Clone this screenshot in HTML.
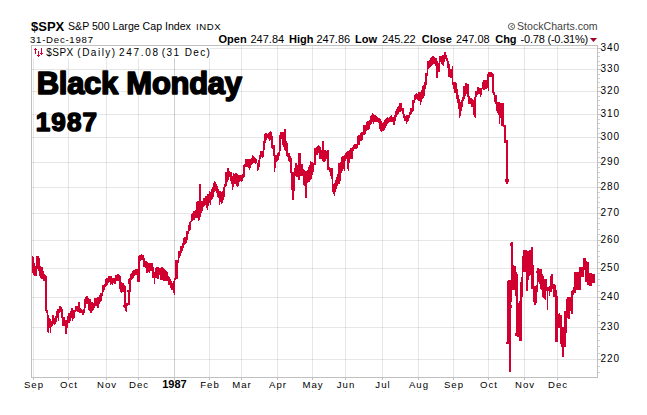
<!DOCTYPE html>
<html><head><meta charset="utf-8"><style>
html,body{margin:0;padding:0;background:#fff;width:647px;height:415px;overflow:hidden}
svg{position:absolute;left:0;top:0}
text{font-family:"Liberation Sans",sans-serif}
.ax{font-size:9.6px;fill:#000;letter-spacing:1px}
.axb{font-size:11px;font-weight:bold;fill:#000}
.hb{font-size:13px;font-weight:bold;fill:#000}
.hn{font-size:10.6px;fill:#000}
.hs{font-size:9.6px;fill:#000;letter-spacing:0.6px}
.sc{font-size:10.6px;fill:#444}
.d{font-size:9.6px;fill:#000;letter-spacing:0.75px}
.ob{font-size:11px;font-weight:bold;fill:#000}
.on{font-size:11px;fill:#000}
.lg{font-size:10px;fill:#000}
.big{font-size:31px;font-weight:bold;fill:#000;stroke:#000;stroke-width:1.6px;stroke-linejoin:round}
</style></head><body>
<svg width="647" height="415" viewBox="0 0 647 415" shape-rendering="crispEdges">
<rect x="33" y="46" width="1" height="331" fill="rgba(0,0,0,0.095)"/>
<rect x="68" y="46" width="1" height="331" fill="rgba(0,0,0,0.095)"/>
<rect x="106" y="46" width="1" height="331" fill="rgba(0,0,0,0.095)"/>
<rect x="138" y="46" width="1" height="331" fill="rgba(0,0,0,0.095)"/>
<rect x="174" y="46" width="1" height="331" fill="rgba(0,0,0,0.19)"/>
<rect x="209" y="46" width="1" height="331" fill="rgba(0,0,0,0.095)"/>
<rect x="241" y="46" width="1" height="331" fill="rgba(0,0,0,0.095)"/>
<rect x="277" y="46" width="1" height="331" fill="rgba(0,0,0,0.095)"/>
<rect x="312" y="46" width="1" height="331" fill="rgba(0,0,0,0.095)"/>
<rect x="345" y="46" width="1" height="331" fill="rgba(0,0,0,0.095)"/>
<rect x="382" y="46" width="1" height="331" fill="rgba(0,0,0,0.095)"/>
<rect x="418" y="46" width="1" height="331" fill="rgba(0,0,0,0.095)"/>
<rect x="453" y="46" width="1" height="331" fill="rgba(0,0,0,0.095)"/>
<rect x="488" y="46" width="1" height="331" fill="rgba(0,0,0,0.095)"/>
<rect x="524" y="46" width="1" height="331" fill="rgba(0,0,0,0.095)"/>
<rect x="557" y="46" width="1" height="331" fill="rgba(0,0,0,0.095)"/>
<rect x="32" y="48" width="565" height="1" fill="rgba(0,0,0,0.095)"/>
<rect x="32" y="69" width="565" height="1" fill="rgba(0,0,0,0.095)"/>
<rect x="32" y="91" width="565" height="1" fill="rgba(0,0,0,0.095)"/>
<rect x="32" y="114" width="565" height="1" fill="rgba(0,0,0,0.095)"/>
<rect x="32" y="137" width="565" height="1" fill="rgba(0,0,0,0.095)"/>
<rect x="32" y="162" width="565" height="1" fill="rgba(0,0,0,0.095)"/>
<rect x="32" y="187" width="565" height="1" fill="rgba(0,0,0,0.095)"/>
<rect x="32" y="213" width="565" height="1" fill="rgba(0,0,0,0.095)"/>
<rect x="32" y="240" width="565" height="1" fill="rgba(0,0,0,0.095)"/>
<rect x="32" y="268" width="565" height="1" fill="rgba(0,0,0,0.095)"/>
<rect x="32" y="297" width="565" height="1" fill="rgba(0,0,0,0.095)"/>
<rect x="32" y="327" width="565" height="1" fill="rgba(0,0,0,0.095)"/>
<rect x="32" y="359" width="565" height="1" fill="rgba(0,0,0,0.095)"/>
<rect x="31" y="45" width="567" height="1" fill="#c0c0c0"/>
<rect x="31" y="377" width="567" height="1" fill="#c0c0c0"/>
<rect x="31" y="45" width="1" height="333" fill="#c0c0c0"/>
<rect x="597" y="45" width="1" height="333" fill="#c0c0c0"/>
<rect x="598" y="372" width="2" height="1" fill="#d0d0d0"/>
<rect x="598" y="366" width="2" height="1" fill="#d0d0d0"/>
<rect x="598" y="359" width="3" height="1" fill="#c0c0c0"/>
<rect x="598" y="353" width="2" height="1" fill="#d0d0d0"/>
<rect x="598" y="346" width="2" height="1" fill="#d0d0d0"/>
<rect x="598" y="340" width="2" height="1" fill="#d0d0d0"/>
<rect x="598" y="333" width="2" height="1" fill="#d0d0d0"/>
<rect x="598" y="327" width="3" height="1" fill="#c0c0c0"/>
<rect x="598" y="321" width="2" height="1" fill="#d0d0d0"/>
<rect x="598" y="315" width="2" height="1" fill="#d0d0d0"/>
<rect x="598" y="309" width="2" height="1" fill="#d0d0d0"/>
<rect x="598" y="303" width="2" height="1" fill="#d0d0d0"/>
<rect x="598" y="297" width="3" height="1" fill="#c0c0c0"/>
<rect x="598" y="291" width="2" height="1" fill="#d0d0d0"/>
<rect x="598" y="285" width="2" height="1" fill="#d0d0d0"/>
<rect x="598" y="279" width="2" height="1" fill="#d0d0d0"/>
<rect x="598" y="273" width="2" height="1" fill="#d0d0d0"/>
<rect x="598" y="268" width="3" height="1" fill="#c0c0c0"/>
<rect x="598" y="262" width="2" height="1" fill="#d0d0d0"/>
<rect x="598" y="256" width="2" height="1" fill="#d0d0d0"/>
<rect x="598" y="251" width="2" height="1" fill="#d0d0d0"/>
<rect x="598" y="245" width="2" height="1" fill="#d0d0d0"/>
<rect x="598" y="240" width="3" height="1" fill="#c0c0c0"/>
<rect x="598" y="234" width="2" height="1" fill="#d0d0d0"/>
<rect x="598" y="229" width="2" height="1" fill="#d0d0d0"/>
<rect x="598" y="223" width="2" height="1" fill="#d0d0d0"/>
<rect x="598" y="218" width="2" height="1" fill="#d0d0d0"/>
<rect x="598" y="213" width="3" height="1" fill="#c0c0c0"/>
<rect x="598" y="207" width="2" height="1" fill="#d0d0d0"/>
<rect x="598" y="202" width="2" height="1" fill="#d0d0d0"/>
<rect x="598" y="197" width="2" height="1" fill="#d0d0d0"/>
<rect x="598" y="192" width="2" height="1" fill="#d0d0d0"/>
<rect x="598" y="187" width="3" height="1" fill="#c0c0c0"/>
<rect x="598" y="182" width="2" height="1" fill="#d0d0d0"/>
<rect x="598" y="177" width="2" height="1" fill="#d0d0d0"/>
<rect x="598" y="172" width="2" height="1" fill="#d0d0d0"/>
<rect x="598" y="167" width="2" height="1" fill="#d0d0d0"/>
<rect x="598" y="162" width="3" height="1" fill="#c0c0c0"/>
<rect x="598" y="157" width="2" height="1" fill="#d0d0d0"/>
<rect x="598" y="152" width="2" height="1" fill="#d0d0d0"/>
<rect x="598" y="147" width="2" height="1" fill="#d0d0d0"/>
<rect x="598" y="142" width="2" height="1" fill="#d0d0d0"/>
<rect x="598" y="137" width="3" height="1" fill="#c0c0c0"/>
<rect x="598" y="133" width="2" height="1" fill="#d0d0d0"/>
<rect x="598" y="128" width="2" height="1" fill="#d0d0d0"/>
<rect x="598" y="123" width="2" height="1" fill="#d0d0d0"/>
<rect x="598" y="119" width="2" height="1" fill="#d0d0d0"/>
<rect x="598" y="114" width="3" height="1" fill="#c0c0c0"/>
<rect x="598" y="109" width="2" height="1" fill="#d0d0d0"/>
<rect x="598" y="105" width="2" height="1" fill="#d0d0d0"/>
<rect x="598" y="100" width="2" height="1" fill="#d0d0d0"/>
<rect x="598" y="96" width="2" height="1" fill="#d0d0d0"/>
<rect x="598" y="91" width="3" height="1" fill="#c0c0c0"/>
<rect x="598" y="87" width="2" height="1" fill="#d0d0d0"/>
<rect x="598" y="82" width="2" height="1" fill="#d0d0d0"/>
<rect x="598" y="78" width="2" height="1" fill="#d0d0d0"/>
<rect x="598" y="74" width="2" height="1" fill="#d0d0d0"/>
<rect x="598" y="69" width="3" height="1" fill="#c0c0c0"/>
<rect x="598" y="65" width="2" height="1" fill="#d0d0d0"/>
<rect x="598" y="61" width="2" height="1" fill="#d0d0d0"/>
<rect x="598" y="56" width="2" height="1" fill="#d0d0d0"/>
<rect x="598" y="52" width="2" height="1" fill="#d0d0d0"/>
<rect x="598" y="48" width="3" height="1" fill="#c0c0c0"/>
<rect x="33" y="378" width="1" height="2" fill="#c0c0c0"/>
<rect x="33" y="391" width="1" height="1" fill="#e0e0e0"/>
<rect x="68" y="378" width="1" height="2" fill="#c0c0c0"/>
<rect x="68" y="391" width="1" height="1" fill="#e0e0e0"/>
<rect x="106" y="378" width="1" height="2" fill="#c0c0c0"/>
<rect x="106" y="391" width="1" height="1" fill="#e0e0e0"/>
<rect x="138" y="378" width="1" height="2" fill="#c0c0c0"/>
<rect x="138" y="391" width="1" height="1" fill="#e0e0e0"/>
<rect x="174" y="378" width="1" height="2" fill="#c0c0c0"/>
<rect x="174" y="391" width="1" height="1" fill="#e0e0e0"/>
<rect x="209" y="378" width="1" height="2" fill="#c0c0c0"/>
<rect x="209" y="391" width="1" height="1" fill="#e0e0e0"/>
<rect x="241" y="378" width="1" height="2" fill="#c0c0c0"/>
<rect x="241" y="391" width="1" height="1" fill="#e0e0e0"/>
<rect x="277" y="378" width="1" height="2" fill="#c0c0c0"/>
<rect x="277" y="391" width="1" height="1" fill="#e0e0e0"/>
<rect x="312" y="378" width="1" height="2" fill="#c0c0c0"/>
<rect x="312" y="391" width="1" height="1" fill="#e0e0e0"/>
<rect x="345" y="378" width="1" height="2" fill="#c0c0c0"/>
<rect x="345" y="391" width="1" height="1" fill="#e0e0e0"/>
<rect x="382" y="378" width="1" height="2" fill="#c0c0c0"/>
<rect x="382" y="391" width="1" height="1" fill="#e0e0e0"/>
<rect x="418" y="378" width="1" height="2" fill="#c0c0c0"/>
<rect x="418" y="391" width="1" height="1" fill="#e0e0e0"/>
<rect x="453" y="378" width="1" height="2" fill="#c0c0c0"/>
<rect x="453" y="391" width="1" height="1" fill="#e0e0e0"/>
<rect x="488" y="378" width="1" height="2" fill="#c0c0c0"/>
<rect x="488" y="391" width="1" height="1" fill="#e0e0e0"/>
<rect x="524" y="378" width="1" height="2" fill="#c0c0c0"/>
<rect x="524" y="391" width="1" height="1" fill="#e0e0e0"/>
<rect x="557" y="378" width="1" height="2" fill="#c0c0c0"/>
<rect x="557" y="391" width="1" height="1" fill="#e0e0e0"/>
<rect x="32" y="256" width="1" height="17" fill="#d10030"/>
<rect x="33" y="257" width="1" height="18" fill="#d10030"/>
<rect x="34" y="263" width="1" height="13" fill="#d10030"/>
<rect x="35" y="266" width="1" height="10" fill="#d10030"/>
<rect x="36" y="256" width="1" height="20" fill="#d10030"/>
<rect x="37" y="256" width="1" height="13" fill="#d10030"/>
<rect x="38" y="256" width="1" height="15" fill="#d10030"/>
<rect x="39" y="258" width="1" height="18" fill="#d10030"/>
<rect x="40" y="266" width="1" height="12" fill="#d10030"/>
<rect x="41" y="267" width="1" height="12" fill="#d10030"/>
<rect x="42" y="267" width="1" height="12" fill="#d10030"/>
<rect x="43" y="271" width="1" height="10" fill="#d10030"/>
<rect x="44" y="274" width="1" height="7" fill="#d10030"/>
<rect x="45" y="275" width="1" height="36" fill="#d10030"/>
<rect x="46" y="276" width="1" height="37" fill="#d10030"/>
<rect x="47" y="310" width="1" height="22" fill="#d10030"/>
<rect x="48" y="315" width="1" height="18" fill="#d10030"/>
<rect x="49" y="318" width="1" height="10" fill="#d10030"/>
<rect x="50" y="319" width="1" height="14" fill="#d10030"/>
<rect x="51" y="321" width="1" height="6" fill="#d10030"/>
<rect x="52" y="315" width="1" height="11" fill="#d10030"/>
<rect x="53" y="315" width="1" height="9" fill="#d10030"/>
<rect x="54" y="318" width="1" height="7" fill="#d10030"/>
<rect x="55" y="316" width="1" height="8" fill="#d10030"/>
<rect x="56" y="311" width="1" height="11" fill="#d10030"/>
<rect x="57" y="309" width="1" height="9" fill="#d10030"/>
<rect x="58" y="309" width="1" height="12" fill="#d10030"/>
<rect x="59" y="306" width="1" height="7" fill="#d10030"/>
<rect x="60" y="306" width="1" height="6" fill="#d10030"/>
<rect x="61" y="307" width="1" height="11" fill="#d10030"/>
<rect x="62" y="309" width="1" height="17" fill="#d10030"/>
<rect x="63" y="317" width="1" height="9" fill="#d10030"/>
<rect x="64" y="317" width="1" height="9" fill="#d10030"/>
<rect x="65" y="320" width="1" height="14" fill="#d10030"/>
<rect x="66" y="320" width="1" height="14" fill="#d10030"/>
<rect x="67" y="316" width="1" height="12" fill="#d10030"/>
<rect x="68" y="313" width="1" height="10" fill="#d10030"/>
<rect x="69" y="313" width="1" height="10" fill="#d10030"/>
<rect x="70" y="311" width="1" height="10" fill="#d10030"/>
<rect x="71" y="308" width="1" height="10" fill="#d10030"/>
<rect x="72" y="308" width="1" height="13" fill="#d10030"/>
<rect x="73" y="310" width="1" height="9" fill="#d10030"/>
<rect x="74" y="310" width="1" height="8" fill="#d10030"/>
<rect x="75" y="306" width="1" height="6" fill="#d10030"/>
<rect x="76" y="306" width="1" height="5" fill="#d10030"/>
<rect x="77" y="306" width="1" height="6" fill="#d10030"/>
<rect x="78" y="302" width="1" height="10" fill="#d10030"/>
<rect x="79" y="302" width="1" height="11" fill="#d10030"/>
<rect x="80" y="308" width="1" height="5" fill="#d10030"/>
<rect x="81" y="309" width="1" height="4" fill="#d10030"/>
<rect x="82" y="310" width="1" height="5" fill="#d10030"/>
<rect x="83" y="309" width="1" height="6" fill="#d10030"/>
<rect x="84" y="299" width="1" height="14" fill="#d10030"/>
<rect x="85" y="297" width="1" height="11" fill="#d10030"/>
<rect x="86" y="296" width="1" height="8" fill="#d10030"/>
<rect x="87" y="296" width="1" height="8" fill="#d10030"/>
<rect x="88" y="298" width="1" height="12" fill="#d10030"/>
<rect x="89" y="299" width="1" height="12" fill="#d10030"/>
<rect x="90" y="299" width="1" height="14" fill="#d10030"/>
<rect x="91" y="302" width="1" height="11" fill="#d10030"/>
<rect x="92" y="302" width="1" height="9" fill="#d10030"/>
<rect x="93" y="303" width="1" height="7" fill="#d10030"/>
<rect x="94" y="298" width="1" height="10" fill="#d10030"/>
<rect x="95" y="298" width="1" height="8" fill="#d10030"/>
<rect x="96" y="298" width="1" height="8" fill="#d10030"/>
<rect x="97" y="297" width="1" height="11" fill="#d10030"/>
<rect x="98" y="297" width="1" height="11" fill="#d10030"/>
<rect x="99" y="295" width="1" height="9" fill="#d10030"/>
<rect x="100" y="293" width="1" height="9" fill="#d10030"/>
<rect x="101" y="293" width="1" height="8" fill="#d10030"/>
<rect x="102" y="285" width="1" height="11" fill="#d10030"/>
<rect x="103" y="285" width="1" height="7" fill="#d10030"/>
<rect x="104" y="284" width="1" height="6" fill="#d10030"/>
<rect x="105" y="279" width="1" height="8" fill="#d10030"/>
<rect x="106" y="278" width="1" height="8" fill="#d10030"/>
<rect x="107" y="278" width="1" height="7" fill="#d10030"/>
<rect x="108" y="276" width="1" height="7" fill="#d10030"/>
<rect x="109" y="276" width="1" height="6" fill="#d10030"/>
<rect x="110" y="276" width="1" height="9" fill="#d10030"/>
<rect x="111" y="276" width="1" height="8" fill="#d10030"/>
<rect x="112" y="278" width="1" height="7" fill="#d10030"/>
<rect x="113" y="278" width="1" height="5" fill="#d10030"/>
<rect x="114" y="278" width="1" height="6" fill="#d10030"/>
<rect x="115" y="275" width="1" height="9" fill="#d10030"/>
<rect x="116" y="275" width="1" height="6" fill="#d10030"/>
<rect x="117" y="274" width="1" height="7" fill="#d10030"/>
<rect x="118" y="274" width="1" height="7" fill="#d10030"/>
<rect x="119" y="275" width="1" height="14" fill="#d10030"/>
<rect x="120" y="276" width="1" height="16" fill="#d10030"/>
<rect x="121" y="282" width="1" height="11" fill="#d10030"/>
<rect x="122" y="283" width="1" height="9" fill="#d10030"/>
<rect x="123" y="283" width="1" height="9" fill="#d10030"/>
<rect x="123" y="305" width="1" height="2" fill="#d10030"/>
<rect x="124" y="285" width="1" height="23" fill="#d10030"/>
<rect x="125" y="286" width="1" height="25" fill="#d10030"/>
<rect x="126" y="303" width="1" height="9" fill="#d10030"/>
<rect x="127" y="290" width="1" height="2" fill="#d10030"/>
<rect x="127" y="303" width="1" height="3" fill="#d10030"/>
<rect x="128" y="279" width="1" height="5" fill="#d10030"/>
<rect x="128" y="290" width="1" height="15" fill="#d10030"/>
<rect x="129" y="278" width="1" height="27" fill="#d10030"/>
<rect x="130" y="274" width="1" height="18" fill="#d10030"/>
<rect x="131" y="273" width="1" height="7" fill="#d10030"/>
<rect x="132" y="271" width="1" height="8" fill="#d10030"/>
<rect x="133" y="270" width="1" height="8" fill="#d10030"/>
<rect x="134" y="270" width="1" height="6" fill="#d10030"/>
<rect x="135" y="269" width="1" height="6" fill="#d10030"/>
<rect x="136" y="269" width="1" height="6" fill="#d10030"/>
<rect x="137" y="269" width="1" height="13" fill="#d10030"/>
<rect x="138" y="256" width="1" height="26" fill="#d10030"/>
<rect x="139" y="255" width="1" height="27" fill="#d10030"/>
<rect x="140" y="255" width="1" height="6" fill="#d10030"/>
<rect x="141" y="254" width="1" height="6" fill="#d10030"/>
<rect x="142" y="255" width="1" height="5" fill="#d10030"/>
<rect x="143" y="255" width="1" height="12" fill="#d10030"/>
<rect x="144" y="258" width="1" height="9" fill="#d10030"/>
<rect x="145" y="261" width="1" height="7" fill="#d10030"/>
<rect x="146" y="261" width="1" height="12" fill="#d10030"/>
<rect x="147" y="262" width="1" height="11" fill="#d10030"/>
<rect x="148" y="263" width="1" height="9" fill="#d10030"/>
<rect x="149" y="263" width="1" height="10" fill="#d10030"/>
<rect x="150" y="263" width="1" height="8" fill="#d10030"/>
<rect x="151" y="263" width="1" height="8" fill="#d10030"/>
<rect x="152" y="263" width="1" height="15" fill="#d10030"/>
<rect x="153" y="267" width="1" height="11" fill="#d10030"/>
<rect x="154" y="272" width="1" height="12" fill="#d10030"/>
<rect x="155" y="268" width="1" height="10" fill="#d10030"/>
<rect x="156" y="267" width="1" height="11" fill="#d10030"/>
<rect x="157" y="267" width="1" height="12" fill="#d10030"/>
<rect x="158" y="267" width="1" height="12" fill="#d10030"/>
<rect x="159" y="268" width="1" height="7" fill="#d10030"/>
<rect x="160" y="268" width="1" height="12" fill="#d10030"/>
<rect x="161" y="267" width="1" height="13" fill="#d10030"/>
<rect x="162" y="267" width="1" height="13" fill="#d10030"/>
<rect x="163" y="268" width="1" height="13" fill="#d10030"/>
<rect x="164" y="269" width="1" height="12" fill="#d10030"/>
<rect x="165" y="270" width="1" height="11" fill="#d10030"/>
<rect x="166" y="271" width="1" height="10" fill="#d10030"/>
<rect x="167" y="272" width="1" height="9" fill="#d10030"/>
<rect x="168" y="276" width="1" height="9" fill="#d10030"/>
<rect x="169" y="277" width="1" height="8" fill="#d10030"/>
<rect x="170" y="279" width="1" height="9" fill="#d10030"/>
<rect x="171" y="281" width="1" height="9" fill="#d10030"/>
<rect x="172" y="283" width="1" height="7" fill="#d10030"/>
<rect x="173" y="281" width="1" height="12" fill="#d10030"/>
<rect x="174" y="278" width="1" height="17" fill="#d10030"/>
<rect x="175" y="260" width="1" height="20" fill="#d10030"/>
<rect x="176" y="260" width="1" height="19" fill="#d10030"/>
<rect x="177" y="260" width="1" height="19" fill="#d10030"/>
<rect x="178" y="251" width="1" height="12" fill="#d10030"/>
<rect x="179" y="251" width="1" height="7" fill="#d10030"/>
<rect x="180" y="246" width="1" height="10" fill="#d10030"/>
<rect x="181" y="246" width="1" height="7" fill="#d10030"/>
<rect x="182" y="243" width="1" height="8" fill="#d10030"/>
<rect x="183" y="238" width="1" height="10" fill="#d10030"/>
<rect x="184" y="237" width="1" height="8" fill="#d10030"/>
<rect x="185" y="237" width="1" height="7" fill="#d10030"/>
<rect x="186" y="231" width="1" height="12" fill="#d10030"/>
<rect x="187" y="231" width="1" height="9" fill="#d10030"/>
<rect x="188" y="225" width="1" height="9" fill="#d10030"/>
<rect x="189" y="222" width="1" height="9" fill="#d10030"/>
<rect x="190" y="221" width="1" height="9" fill="#d10030"/>
<rect x="191" y="214" width="1" height="8" fill="#d10030"/>
<rect x="192" y="213" width="1" height="8" fill="#d10030"/>
<rect x="193" y="211" width="1" height="9" fill="#d10030"/>
<rect x="194" y="211" width="1" height="9" fill="#d10030"/>
<rect x="195" y="210" width="1" height="8" fill="#d10030"/>
<rect x="196" y="202" width="1" height="16" fill="#d10030"/>
<rect x="197" y="201" width="1" height="17" fill="#d10030"/>
<rect x="198" y="201" width="1" height="20" fill="#d10030"/>
<rect x="199" y="184" width="1" height="36" fill="#d10030"/>
<rect x="200" y="184" width="1" height="33" fill="#d10030"/>
<rect x="201" y="201" width="1" height="12" fill="#d10030"/>
<rect x="202" y="201" width="1" height="10" fill="#d10030"/>
<rect x="203" y="198" width="1" height="9" fill="#d10030"/>
<rect x="204" y="198" width="1" height="8" fill="#d10030"/>
<rect x="205" y="196" width="1" height="9" fill="#d10030"/>
<rect x="206" y="196" width="1" height="12" fill="#d10030"/>
<rect x="207" y="194" width="1" height="16" fill="#d10030"/>
<rect x="208" y="194" width="1" height="12" fill="#d10030"/>
<rect x="209" y="191" width="1" height="12" fill="#d10030"/>
<rect x="210" y="192" width="1" height="13" fill="#d10030"/>
<rect x="211" y="189" width="1" height="11" fill="#d10030"/>
<rect x="212" y="187" width="1" height="12" fill="#d10030"/>
<rect x="213" y="183" width="1" height="14" fill="#d10030"/>
<rect x="214" y="181" width="1" height="11" fill="#d10030"/>
<rect x="215" y="182" width="1" height="9" fill="#d10030"/>
<rect x="216" y="184" width="1" height="9" fill="#d10030"/>
<rect x="217" y="186" width="1" height="11" fill="#d10030"/>
<rect x="218" y="189" width="1" height="9" fill="#d10030"/>
<rect x="219" y="191" width="1" height="14" fill="#d10030"/>
<rect x="220" y="191" width="1" height="11" fill="#d10030"/>
<rect x="221" y="192" width="1" height="12" fill="#d10030"/>
<rect x="222" y="191" width="1" height="12" fill="#d10030"/>
<rect x="223" y="187" width="1" height="13" fill="#d10030"/>
<rect x="224" y="184" width="1" height="13" fill="#d10030"/>
<rect x="225" y="172" width="1" height="15" fill="#d10030"/>
<rect x="226" y="172" width="1" height="14" fill="#d10030"/>
<rect x="227" y="168" width="1" height="14" fill="#d10030"/>
<rect x="228" y="168" width="1" height="12" fill="#d10030"/>
<rect x="229" y="171" width="1" height="6" fill="#d10030"/>
<rect x="230" y="172" width="1" height="9" fill="#d10030"/>
<rect x="231" y="172" width="1" height="12" fill="#d10030"/>
<rect x="232" y="176" width="1" height="14" fill="#d10030"/>
<rect x="233" y="173" width="1" height="14" fill="#d10030"/>
<rect x="234" y="174" width="1" height="10" fill="#d10030"/>
<rect x="235" y="173" width="1" height="11" fill="#d10030"/>
<rect x="236" y="173" width="1" height="13" fill="#d10030"/>
<rect x="237" y="174" width="1" height="13" fill="#d10030"/>
<rect x="238" y="175" width="1" height="11" fill="#d10030"/>
<rect x="239" y="175" width="1" height="7" fill="#d10030"/>
<rect x="240" y="175" width="1" height="6" fill="#d10030"/>
<rect x="241" y="175" width="1" height="7" fill="#d10030"/>
<rect x="242" y="174" width="1" height="7" fill="#d10030"/>
<rect x="243" y="165" width="1" height="13" fill="#d10030"/>
<rect x="244" y="164" width="1" height="13" fill="#d10030"/>
<rect x="245" y="159" width="1" height="8" fill="#d10030"/>
<rect x="246" y="159" width="1" height="8" fill="#d10030"/>
<rect x="247" y="159" width="1" height="8" fill="#d10030"/>
<rect x="248" y="159" width="1" height="9" fill="#d10030"/>
<rect x="249" y="159" width="1" height="11" fill="#d10030"/>
<rect x="250" y="159" width="1" height="9" fill="#d10030"/>
<rect x="251" y="158" width="1" height="7" fill="#d10030"/>
<rect x="252" y="155" width="1" height="9" fill="#d10030"/>
<rect x="253" y="156" width="1" height="7" fill="#d10030"/>
<rect x="254" y="157" width="1" height="6" fill="#d10030"/>
<rect x="255" y="158" width="1" height="6" fill="#d10030"/>
<rect x="256" y="159" width="1" height="4" fill="#d10030"/>
<rect x="257" y="163" width="1" height="8" fill="#d10030"/>
<rect x="258" y="160" width="1" height="10" fill="#d10030"/>
<rect x="259" y="155" width="1" height="12" fill="#d10030"/>
<rect x="260" y="151" width="1" height="8" fill="#d10030"/>
<rect x="261" y="151" width="1" height="6" fill="#d10030"/>
<rect x="262" y="151" width="1" height="7" fill="#d10030"/>
<rect x="263" y="141" width="1" height="16" fill="#d10030"/>
<rect x="264" y="134" width="1" height="16" fill="#d10030"/>
<rect x="265" y="133" width="1" height="10" fill="#d10030"/>
<rect x="266" y="133" width="1" height="7" fill="#d10030"/>
<rect x="267" y="134" width="1" height="4" fill="#d10030"/>
<rect x="268" y="133" width="1" height="6" fill="#d10030"/>
<rect x="269" y="132" width="1" height="9" fill="#d10030"/>
<rect x="270" y="131" width="1" height="9" fill="#d10030"/>
<rect x="271" y="132" width="1" height="16" fill="#d10030"/>
<rect x="272" y="136" width="1" height="13" fill="#d10030"/>
<rect x="273" y="145" width="1" height="11" fill="#d10030"/>
<rect x="274" y="145" width="1" height="27" fill="#d10030"/>
<rect x="275" y="155" width="1" height="13" fill="#d10030"/>
<rect x="276" y="155" width="1" height="7" fill="#d10030"/>
<rect x="277" y="153" width="1" height="8" fill="#d10030"/>
<rect x="278" y="152" width="1" height="8" fill="#d10030"/>
<rect x="279" y="135" width="1" height="21" fill="#d10030"/>
<rect x="280" y="132" width="1" height="19" fill="#d10030"/>
<rect x="281" y="132" width="1" height="7" fill="#d10030"/>
<rect x="282" y="132" width="1" height="13" fill="#d10030"/>
<rect x="283" y="132" width="1" height="15" fill="#d10030"/>
<rect x="284" y="129" width="1" height="21" fill="#d10030"/>
<rect x="285" y="129" width="1" height="22" fill="#d10030"/>
<rect x="286" y="141" width="1" height="15" fill="#d10030"/>
<rect x="287" y="143" width="1" height="14" fill="#d10030"/>
<rect x="288" y="153" width="1" height="8" fill="#d10030"/>
<rect x="289" y="153" width="1" height="9" fill="#d10030"/>
<rect x="290" y="156" width="1" height="17" fill="#d10030"/>
<rect x="291" y="158" width="1" height="32" fill="#d10030"/>
<rect x="292" y="172" width="1" height="28" fill="#d10030"/>
<rect x="293" y="172" width="1" height="28" fill="#d10030"/>
<rect x="294" y="168" width="1" height="23" fill="#d10030"/>
<rect x="295" y="163" width="1" height="13" fill="#d10030"/>
<rect x="296" y="163" width="1" height="14" fill="#d10030"/>
<rect x="297" y="165" width="1" height="12" fill="#d10030"/>
<rect x="298" y="153" width="1" height="27" fill="#d10030"/>
<rect x="299" y="153" width="1" height="27" fill="#d10030"/>
<rect x="300" y="153" width="1" height="23" fill="#d10030"/>
<rect x="301" y="164" width="1" height="12" fill="#d10030"/>
<rect x="302" y="164" width="1" height="12" fill="#d10030"/>
<rect x="303" y="169" width="1" height="16" fill="#d10030"/>
<rect x="304" y="170" width="1" height="16" fill="#d10030"/>
<rect x="305" y="171" width="1" height="27" fill="#d10030"/>
<rect x="306" y="171" width="1" height="27" fill="#d10030"/>
<rect x="307" y="170" width="1" height="13" fill="#d10030"/>
<rect x="308" y="167" width="1" height="15" fill="#d10030"/>
<rect x="309" y="165" width="1" height="17" fill="#d10030"/>
<rect x="310" y="161" width="1" height="19" fill="#d10030"/>
<rect x="311" y="162" width="1" height="17" fill="#d10030"/>
<rect x="312" y="162" width="1" height="13" fill="#d10030"/>
<rect x="313" y="163" width="1" height="9" fill="#d10030"/>
<rect x="314" y="148" width="1" height="17" fill="#d10030"/>
<rect x="315" y="148" width="1" height="17" fill="#d10030"/>
<rect x="316" y="147" width="1" height="8" fill="#d10030"/>
<rect x="317" y="146" width="1" height="9" fill="#d10030"/>
<rect x="318" y="145" width="1" height="8" fill="#d10030"/>
<rect x="319" y="146" width="1" height="13" fill="#d10030"/>
<rect x="320" y="147" width="1" height="12" fill="#d10030"/>
<rect x="321" y="150" width="1" height="9" fill="#d10030"/>
<rect x="322" y="141" width="1" height="20" fill="#d10030"/>
<rect x="323" y="141" width="1" height="21" fill="#d10030"/>
<rect x="324" y="150" width="1" height="12" fill="#d10030"/>
<rect x="325" y="150" width="1" height="11" fill="#d10030"/>
<rect x="326" y="151" width="1" height="8" fill="#d10030"/>
<rect x="327" y="150" width="1" height="20" fill="#d10030"/>
<rect x="328" y="150" width="1" height="20" fill="#d10030"/>
<rect x="329" y="167" width="1" height="5" fill="#d10030"/>
<rect x="330" y="168" width="1" height="8" fill="#d10030"/>
<rect x="331" y="168" width="1" height="11" fill="#d10030"/>
<rect x="332" y="168" width="1" height="24" fill="#d10030"/>
<rect x="333" y="184" width="1" height="10" fill="#d10030"/>
<rect x="334" y="183" width="1" height="13" fill="#d10030"/>
<rect x="335" y="180" width="1" height="12" fill="#d10030"/>
<rect x="336" y="177" width="1" height="12" fill="#d10030"/>
<rect x="337" y="174" width="1" height="12" fill="#d10030"/>
<rect x="338" y="163" width="1" height="21" fill="#d10030"/>
<rect x="339" y="163" width="1" height="21" fill="#d10030"/>
<rect x="340" y="162" width="1" height="19" fill="#d10030"/>
<rect x="341" y="157" width="1" height="16" fill="#d10030"/>
<rect x="342" y="156" width="1" height="15" fill="#d10030"/>
<rect x="343" y="156" width="1" height="13" fill="#d10030"/>
<rect x="344" y="155" width="1" height="16" fill="#d10030"/>
<rect x="345" y="153" width="1" height="8" fill="#d10030"/>
<rect x="346" y="152" width="1" height="7" fill="#d10030"/>
<rect x="347" y="151" width="1" height="18" fill="#d10030"/>
<rect x="348" y="151" width="1" height="20" fill="#d10030"/>
<rect x="349" y="150" width="1" height="13" fill="#d10030"/>
<rect x="350" y="148" width="1" height="11" fill="#d10030"/>
<rect x="351" y="148" width="1" height="11" fill="#d10030"/>
<rect x="352" y="147" width="1" height="12" fill="#d10030"/>
<rect x="353" y="145" width="1" height="6" fill="#d10030"/>
<rect x="354" y="144" width="1" height="5" fill="#d10030"/>
<rect x="355" y="144" width="1" height="5" fill="#d10030"/>
<rect x="356" y="144" width="1" height="5" fill="#d10030"/>
<rect x="357" y="136" width="1" height="12" fill="#d10030"/>
<rect x="358" y="135" width="1" height="10" fill="#d10030"/>
<rect x="359" y="135" width="1" height="10" fill="#d10030"/>
<rect x="360" y="133" width="1" height="8" fill="#d10030"/>
<rect x="361" y="132" width="1" height="9" fill="#d10030"/>
<rect x="362" y="132" width="1" height="8" fill="#d10030"/>
<rect x="363" y="125" width="1" height="10" fill="#d10030"/>
<rect x="364" y="125" width="1" height="10" fill="#d10030"/>
<rect x="365" y="125" width="1" height="9" fill="#d10030"/>
<rect x="366" y="122" width="1" height="9" fill="#d10030"/>
<rect x="367" y="121" width="1" height="9" fill="#d10030"/>
<rect x="368" y="121" width="1" height="9" fill="#d10030"/>
<rect x="369" y="120" width="1" height="9" fill="#d10030"/>
<rect x="370" y="116" width="1" height="9" fill="#d10030"/>
<rect x="371" y="115" width="1" height="9" fill="#d10030"/>
<rect x="372" y="113" width="1" height="9" fill="#d10030"/>
<rect x="373" y="114" width="1" height="10" fill="#d10030"/>
<rect x="374" y="115" width="1" height="7" fill="#d10030"/>
<rect x="375" y="115" width="1" height="7" fill="#d10030"/>
<rect x="376" y="116" width="1" height="6" fill="#d10030"/>
<rect x="377" y="117" width="1" height="5" fill="#d10030"/>
<rect x="378" y="118" width="1" height="5" fill="#d10030"/>
<rect x="379" y="118" width="1" height="11" fill="#d10030"/>
<rect x="380" y="119" width="1" height="12" fill="#d10030"/>
<rect x="381" y="121" width="1" height="11" fill="#d10030"/>
<rect x="382" y="123" width="1" height="8" fill="#d10030"/>
<rect x="383" y="122" width="1" height="9" fill="#d10030"/>
<rect x="384" y="120" width="1" height="10" fill="#d10030"/>
<rect x="385" y="119" width="1" height="9" fill="#d10030"/>
<rect x="386" y="118" width="1" height="8" fill="#d10030"/>
<rect x="387" y="117" width="1" height="7" fill="#d10030"/>
<rect x="388" y="118" width="1" height="5" fill="#d10030"/>
<rect x="389" y="117" width="1" height="5" fill="#d10030"/>
<rect x="390" y="116" width="1" height="6" fill="#d10030"/>
<rect x="391" y="115" width="1" height="7" fill="#d10030"/>
<rect x="392" y="117" width="1" height="5" fill="#d10030"/>
<rect x="393" y="117" width="1" height="8" fill="#d10030"/>
<rect x="394" y="115" width="1" height="10" fill="#d10030"/>
<rect x="395" y="111" width="1" height="10" fill="#d10030"/>
<rect x="396" y="109" width="1" height="8" fill="#d10030"/>
<rect x="397" y="107" width="1" height="8" fill="#d10030"/>
<rect x="398" y="106" width="1" height="8" fill="#d10030"/>
<rect x="399" y="103" width="1" height="9" fill="#d10030"/>
<rect x="400" y="103" width="1" height="9" fill="#d10030"/>
<rect x="401" y="103" width="1" height="8" fill="#d10030"/>
<rect x="402" y="108" width="1" height="6" fill="#d10030"/>
<rect x="403" y="108" width="1" height="10" fill="#d10030"/>
<rect x="404" y="114" width="1" height="7" fill="#d10030"/>
<rect x="405" y="116" width="1" height="5" fill="#d10030"/>
<rect x="406" y="115" width="1" height="9" fill="#d10030"/>
<rect x="407" y="115" width="1" height="7" fill="#d10030"/>
<rect x="408" y="115" width="1" height="6" fill="#d10030"/>
<rect x="409" y="112" width="1" height="6" fill="#d10030"/>
<rect x="410" y="108" width="1" height="7" fill="#d10030"/>
<rect x="411" y="108" width="1" height="6" fill="#d10030"/>
<rect x="412" y="100" width="1" height="12" fill="#d10030"/>
<rect x="413" y="100" width="1" height="11" fill="#d10030"/>
<rect x="414" y="95" width="1" height="8" fill="#d10030"/>
<rect x="415" y="94" width="1" height="6" fill="#d10030"/>
<rect x="416" y="93" width="1" height="6" fill="#d10030"/>
<rect x="417" y="94" width="1" height="6" fill="#d10030"/>
<rect x="418" y="92" width="1" height="9" fill="#d10030"/>
<rect x="419" y="92" width="1" height="9" fill="#d10030"/>
<rect x="420" y="92" width="1" height="13" fill="#d10030"/>
<rect x="421" y="90" width="1" height="12" fill="#d10030"/>
<rect x="422" y="86" width="1" height="13" fill="#d10030"/>
<rect x="423" y="85" width="1" height="13" fill="#d10030"/>
<rect x="424" y="82" width="1" height="14" fill="#d10030"/>
<rect x="425" y="73" width="1" height="16" fill="#d10030"/>
<rect x="426" y="73" width="1" height="12" fill="#d10030"/>
<rect x="427" y="61" width="1" height="15" fill="#d10030"/>
<rect x="428" y="61" width="1" height="8" fill="#d10030"/>
<rect x="429" y="60" width="1" height="8" fill="#d10030"/>
<rect x="430" y="58" width="1" height="9" fill="#d10030"/>
<rect x="431" y="57" width="1" height="9" fill="#d10030"/>
<rect x="432" y="56" width="1" height="9" fill="#d10030"/>
<rect x="433" y="56" width="1" height="8" fill="#d10030"/>
<rect x="434" y="57" width="1" height="7" fill="#d10030"/>
<rect x="435" y="58" width="1" height="8" fill="#d10030"/>
<rect x="436" y="58" width="1" height="20" fill="#d10030"/>
<rect x="437" y="61" width="1" height="17" fill="#d10030"/>
<rect x="438" y="63" width="1" height="9" fill="#d10030"/>
<rect x="439" y="56" width="1" height="16" fill="#d10030"/>
<rect x="440" y="56" width="1" height="6" fill="#d10030"/>
<rect x="441" y="56" width="1" height="8" fill="#d10030"/>
<rect x="442" y="55" width="1" height="10" fill="#d10030"/>
<rect x="443" y="55" width="1" height="11" fill="#d10030"/>
<rect x="444" y="52" width="1" height="10" fill="#d10030"/>
<rect x="445" y="52" width="1" height="7" fill="#d10030"/>
<rect x="446" y="55" width="1" height="6" fill="#d10030"/>
<rect x="447" y="58" width="1" height="10" fill="#d10030"/>
<rect x="448" y="61" width="1" height="16" fill="#d10030"/>
<rect x="449" y="64" width="1" height="13" fill="#d10030"/>
<rect x="450" y="69" width="1" height="9" fill="#d10030"/>
<rect x="451" y="69" width="1" height="9" fill="#d10030"/>
<rect x="452" y="66" width="1" height="19" fill="#d10030"/>
<rect x="453" y="82" width="1" height="7" fill="#d10030"/>
<rect x="454" y="82" width="1" height="11" fill="#d10030"/>
<rect x="455" y="82" width="1" height="11" fill="#d10030"/>
<rect x="456" y="83" width="1" height="16" fill="#d10030"/>
<rect x="457" y="89" width="1" height="14" fill="#d10030"/>
<rect x="458" y="95" width="1" height="14" fill="#d10030"/>
<rect x="459" y="99" width="1" height="19" fill="#d10030"/>
<rect x="460" y="102" width="1" height="14" fill="#d10030"/>
<rect x="461" y="100" width="1" height="11" fill="#d10030"/>
<rect x="462" y="97" width="1" height="10" fill="#d10030"/>
<rect x="463" y="86" width="1" height="15" fill="#d10030"/>
<rect x="464" y="86" width="1" height="13" fill="#d10030"/>
<rect x="465" y="83" width="1" height="13" fill="#d10030"/>
<rect x="466" y="83" width="1" height="11" fill="#d10030"/>
<rect x="467" y="84" width="1" height="13" fill="#d10030"/>
<rect x="468" y="84" width="1" height="20" fill="#d10030"/>
<rect x="469" y="96" width="1" height="8" fill="#d10030"/>
<rect x="470" y="98" width="1" height="6" fill="#d10030"/>
<rect x="471" y="98" width="1" height="9" fill="#d10030"/>
<rect x="472" y="99" width="1" height="8" fill="#d10030"/>
<rect x="473" y="100" width="1" height="15" fill="#d10030"/>
<rect x="474" y="97" width="1" height="20" fill="#d10030"/>
<rect x="475" y="91" width="1" height="27" fill="#d10030"/>
<rect x="476" y="91" width="1" height="6" fill="#d10030"/>
<rect x="477" y="87" width="1" height="8" fill="#d10030"/>
<rect x="478" y="87" width="1" height="7" fill="#d10030"/>
<rect x="479" y="88" width="1" height="6" fill="#d10030"/>
<rect x="480" y="88" width="1" height="9" fill="#d10030"/>
<rect x="481" y="88" width="1" height="7" fill="#d10030"/>
<rect x="482" y="82" width="1" height="7" fill="#d10030"/>
<rect x="483" y="80" width="1" height="10" fill="#d10030"/>
<rect x="484" y="80" width="1" height="10" fill="#d10030"/>
<rect x="485" y="80" width="1" height="9" fill="#d10030"/>
<rect x="486" y="80" width="1" height="9" fill="#d10030"/>
<rect x="487" y="74" width="1" height="14" fill="#d10030"/>
<rect x="488" y="72" width="1" height="19" fill="#d10030"/>
<rect x="489" y="72" width="1" height="5" fill="#d10030"/>
<rect x="490" y="72" width="1" height="5" fill="#d10030"/>
<rect x="491" y="72" width="1" height="5" fill="#d10030"/>
<rect x="492" y="73" width="1" height="20" fill="#d10030"/>
<rect x="493" y="74" width="1" height="21" fill="#d10030"/>
<rect x="494" y="92" width="1" height="10" fill="#d10030"/>
<rect x="495" y="95" width="1" height="9" fill="#d10030"/>
<rect x="496" y="95" width="1" height="16" fill="#d10030"/>
<rect x="497" y="102" width="1" height="11" fill="#d10030"/>
<rect x="498" y="102" width="1" height="13" fill="#d10030"/>
<rect x="499" y="102" width="1" height="22" fill="#d10030"/>
<rect x="500" y="103" width="1" height="15" fill="#d10030"/>
<rect x="501" y="103" width="1" height="23" fill="#d10030"/>
<rect x="502" y="103" width="1" height="23" fill="#d10030"/>
<rect x="503" y="103" width="1" height="24" fill="#d10030"/>
<rect x="504" y="125" width="1" height="18" fill="#d10030"/>
<rect x="505" y="125" width="1" height="18" fill="#d10030"/>
<rect x="505" y="179" width="1" height="3" fill="#d10030"/>
<rect x="506" y="140" width="1" height="44" fill="#d10030"/>
<rect x="506" y="342" width="1" height="2" fill="#d10030"/>
<rect x="507" y="140" width="1" height="44" fill="#d10030"/>
<rect x="507" y="281" width="1" height="63" fill="#d10030"/>
<rect x="508" y="179" width="1" height="3" fill="#d10030"/>
<rect x="508" y="280" width="1" height="64" fill="#d10030"/>
<rect x="509" y="280" width="1" height="92" fill="#d10030"/>
<rect x="510" y="243" width="1" height="3" fill="#d10030"/>
<rect x="510" y="280" width="1" height="92" fill="#d10030"/>
<rect x="511" y="242" width="1" height="60" fill="#d10030"/>
<rect x="511" y="305" width="1" height="3" fill="#d10030"/>
<rect x="512" y="242" width="1" height="48" fill="#d10030"/>
<rect x="513" y="265" width="1" height="25" fill="#d10030"/>
<rect x="514" y="266" width="1" height="24" fill="#d10030"/>
<rect x="515" y="266" width="1" height="30" fill="#d10030"/>
<rect x="515" y="333" width="1" height="3" fill="#d10030"/>
<rect x="516" y="272" width="1" height="64" fill="#d10030"/>
<rect x="517" y="274" width="1" height="63" fill="#d10030"/>
<rect x="518" y="303" width="1" height="34" fill="#d10030"/>
<rect x="519" y="301" width="1" height="40" fill="#d10030"/>
<rect x="520" y="282" width="1" height="59" fill="#d10030"/>
<rect x="521" y="277" width="1" height="64" fill="#d10030"/>
<rect x="522" y="256" width="1" height="41" fill="#d10030"/>
<rect x="523" y="250" width="1" height="22" fill="#d10030"/>
<rect x="524" y="250" width="1" height="22" fill="#d10030"/>
<rect x="525" y="250" width="1" height="22" fill="#d10030"/>
<rect x="526" y="250" width="1" height="41" fill="#d10030"/>
<rect x="527" y="251" width="1" height="40" fill="#d10030"/>
<rect x="528" y="251" width="1" height="29" fill="#d10030"/>
<rect x="529" y="250" width="1" height="26" fill="#d10030"/>
<rect x="530" y="250" width="1" height="25" fill="#d10030"/>
<rect x="531" y="247" width="1" height="42" fill="#d10030"/>
<rect x="532" y="247" width="1" height="42" fill="#d10030"/>
<rect x="533" y="265" width="1" height="37" fill="#d10030"/>
<rect x="534" y="286" width="1" height="19" fill="#d10030"/>
<rect x="535" y="286" width="1" height="19" fill="#d10030"/>
<rect x="536" y="271" width="1" height="2" fill="#d10030"/>
<rect x="536" y="285" width="1" height="18" fill="#d10030"/>
<rect x="537" y="268" width="1" height="24" fill="#d10030"/>
<rect x="538" y="268" width="1" height="14" fill="#d10030"/>
<rect x="539" y="269" width="1" height="15" fill="#d10030"/>
<rect x="540" y="269" width="1" height="20" fill="#d10030"/>
<rect x="541" y="269" width="1" height="21" fill="#d10030"/>
<rect x="542" y="274" width="1" height="23" fill="#d10030"/>
<rect x="543" y="276" width="1" height="22" fill="#d10030"/>
<rect x="544" y="279" width="1" height="20" fill="#d10030"/>
<rect x="545" y="279" width="1" height="21" fill="#d10030"/>
<rect x="546" y="279" width="1" height="12" fill="#d10030"/>
<rect x="547" y="287" width="1" height="23" fill="#d10030"/>
<rect x="548" y="287" width="1" height="4" fill="#d10030"/>
<rect x="549" y="286" width="1" height="10" fill="#d10030"/>
<rect x="550" y="276" width="1" height="16" fill="#d10030"/>
<rect x="551" y="274" width="1" height="18" fill="#d10030"/>
<rect x="552" y="274" width="1" height="15" fill="#d10030"/>
<rect x="553" y="284" width="1" height="13" fill="#d10030"/>
<rect x="554" y="284" width="1" height="13" fill="#d10030"/>
<rect x="555" y="285" width="1" height="57" fill="#d10030"/>
<rect x="556" y="290" width="1" height="52" fill="#d10030"/>
<rect x="557" y="296" width="1" height="46" fill="#d10030"/>
<rect x="558" y="314" width="1" height="14" fill="#d10030"/>
<rect x="559" y="313" width="1" height="15" fill="#d10030"/>
<rect x="560" y="315" width="1" height="29" fill="#d10030"/>
<rect x="561" y="315" width="1" height="32" fill="#d10030"/>
<rect x="562" y="327" width="1" height="30" fill="#d10030"/>
<rect x="563" y="327" width="1" height="30" fill="#d10030"/>
<rect x="564" y="311" width="1" height="36" fill="#d10030"/>
<rect x="565" y="311" width="1" height="36" fill="#d10030"/>
<rect x="566" y="299" width="1" height="34" fill="#d10030"/>
<rect x="567" y="297" width="1" height="21" fill="#d10030"/>
<rect x="568" y="297" width="1" height="22" fill="#d10030"/>
<rect x="569" y="297" width="1" height="22" fill="#d10030"/>
<rect x="570" y="297" width="1" height="14" fill="#d10030"/>
<rect x="571" y="291" width="1" height="23" fill="#d10030"/>
<rect x="572" y="290" width="1" height="24" fill="#d10030"/>
<rect x="573" y="287" width="1" height="8" fill="#d10030"/>
<rect x="574" y="272" width="1" height="21" fill="#d10030"/>
<rect x="575" y="272" width="1" height="21" fill="#d10030"/>
<rect x="576" y="272" width="1" height="18" fill="#d10030"/>
<rect x="577" y="272" width="1" height="18" fill="#d10030"/>
<rect x="578" y="272" width="1" height="18" fill="#d10030"/>
<rect x="579" y="267" width="1" height="23" fill="#d10030"/>
<rect x="580" y="267" width="1" height="23" fill="#d10030"/>
<rect x="581" y="267" width="1" height="10" fill="#d10030"/>
<rect x="582" y="267" width="1" height="10" fill="#d10030"/>
<rect x="583" y="258" width="1" height="19" fill="#d10030"/>
<rect x="584" y="258" width="1" height="12" fill="#d10030"/>
<rect x="585" y="258" width="1" height="24" fill="#d10030"/>
<rect x="586" y="261" width="1" height="21" fill="#d10030"/>
<rect x="587" y="262" width="1" height="23" fill="#d10030"/>
<rect x="588" y="262" width="1" height="23" fill="#d10030"/>
<rect x="589" y="273" width="1" height="13" fill="#d10030"/>
<rect x="590" y="273" width="1" height="13" fill="#d10030"/>
<rect x="591" y="273" width="1" height="13" fill="#d10030"/>
<rect x="592" y="274" width="1" height="9" fill="#d10030"/>
<rect x="593" y="274" width="1" height="9" fill="#d10030"/>
<rect x="594" y="274" width="1" height="9" fill="#d10030"/>
<text x="600.6" y="51" class="ax" style="font-size:10px;letter-spacing:0.9px">340</text>
<text x="600.6" y="72" class="ax" style="font-size:10px;letter-spacing:0.9px">330</text>
<text x="600.6" y="94" class="ax" style="font-size:10px;letter-spacing:0.9px">320</text>
<text x="600.6" y="117" class="ax" style="font-size:10px;letter-spacing:0.9px">310</text>
<text x="600.6" y="140" class="ax" style="font-size:10px;letter-spacing:0.9px">300</text>
<text x="600.6" y="165" class="ax" style="font-size:10px;letter-spacing:0.9px">290</text>
<text x="600.6" y="190" class="ax" style="font-size:10px;letter-spacing:0.9px">280</text>
<text x="600.6" y="216" class="ax" style="font-size:10px;letter-spacing:0.9px">270</text>
<text x="600.6" y="243" class="ax" style="font-size:10px;letter-spacing:0.9px">260</text>
<text x="600.6" y="271" class="ax" style="font-size:10px;letter-spacing:0.9px">250</text>
<text x="600.6" y="300" class="ax" style="font-size:10px;letter-spacing:0.9px">240</text>
<text x="600.6" y="330" class="ax" style="font-size:10px;letter-spacing:0.9px">230</text>
<text x="600.6" y="362" class="ax" style="font-size:10px;letter-spacing:0.9px">220</text>
<text x="34" y="388" class="ax" text-anchor="middle">Sep</text>
<text x="69" y="388" class="ax" text-anchor="middle">Oct</text>
<text x="107" y="388" class="ax" text-anchor="middle">Nov</text>
<text x="139" y="388" class="ax" text-anchor="middle">Dec</text>
<text x="174.5" y="388" class="axb" text-anchor="middle">1987</text>
<text x="210" y="388" class="ax" text-anchor="middle">Feb</text>
<text x="242" y="388" class="ax" text-anchor="middle">Mar</text>
<text x="278" y="388" class="ax" text-anchor="middle">Apr</text>
<text x="313" y="388" class="ax" text-anchor="middle">May</text>
<text x="346" y="388" class="ax" text-anchor="middle">Jun</text>
<text x="383" y="388" class="ax" text-anchor="middle">Jul</text>
<text x="419" y="388" class="ax" text-anchor="middle">Aug</text>
<text x="454" y="388" class="ax" text-anchor="middle">Sep</text>
<text x="489" y="388" class="ax" text-anchor="middle">Oct</text>
<text x="525" y="388" class="ax" text-anchor="middle">Nov</text>
<text x="558" y="388" class="ax" text-anchor="middle">Dec</text>
<text x="31" y="31" class="hb">$SPX</text>
<text x="68" y="30" class="hn">S&amp;P 500 Large Cap Index</text>
<text x="196" y="30" class="hs">INDX</text>
<circle cx="511.5" cy="26.5" r="3.1" fill="none" stroke="#444" stroke-width="0.9" shape-rendering="geometricPrecision"/><path d="M512.8 25.1 L510.6 26.5 L512.8 27.9" fill="none" stroke="#444" stroke-width="0.8" shape-rendering="geometricPrecision"/>
<text x="517" y="30" class="sc">StockCharts.com</text>
<text x="30" y="43" class="d">31-Dec-1987</text>
<text x="218.5" y="43" class="ob">Open</text><text x="250.5" y="43" class="on">247.84</text>
<text x="289" y="43" class="ob">High</text><text x="316.5" y="43" class="on">247.86</text>
<text x="355" y="43" class="ob">Low</text><text x="382" y="43" class="on">245.22</text>
<text x="421.8" y="43" class="ob">Close</text><text x="456" y="43" class="on">247.08</text>
<text x="495.2" y="43" class="ob">Chg</text><text x="520.5" y="43" class="on" style="letter-spacing:-0.2px">-0.78 (-0.31%)</text>
<rect x="32" y="46" width="178" height="12" fill="#fff"/>
<path d="M590 38 L597 38 L593.5 42 Z" fill="#a0002a" shape-rendering="geometricPrecision"/>
<g fill="#d10030" shape-rendering="crispEdges">
<rect x="35" y="48" width="1" height="6"/><rect x="34" y="49" width="3" height="1"/>
<rect x="38" y="51" width="1" height="6"/><rect x="37" y="55" width="3" height="1"/>
<rect x="41" y="48" width="1" height="7"/><rect x="40" y="53" width="3" height="1"/>
</g>
<text x="46.2" y="56" class="lg" style="letter-spacing:0.5px">$SPX</text>
<text x="77.3" y="56" class="lg" style="letter-spacing:1.5px">(Daily)</text>
<text x="119" y="56" class="lg" style="letter-spacing:1.7px">247.08</text>
<text x="161.8" y="56" class="lg" style="letter-spacing:1.4px">(31 Dec)</text>
<text x="36.7" y="94" class="big" style="letter-spacing:-0.28px">Black Monday</text>
<text x="35.8" y="130.6" class="big" style="font-size:26px;stroke-width:1.5px;letter-spacing:1.1px">1987</text>
</svg>
</body></html>
